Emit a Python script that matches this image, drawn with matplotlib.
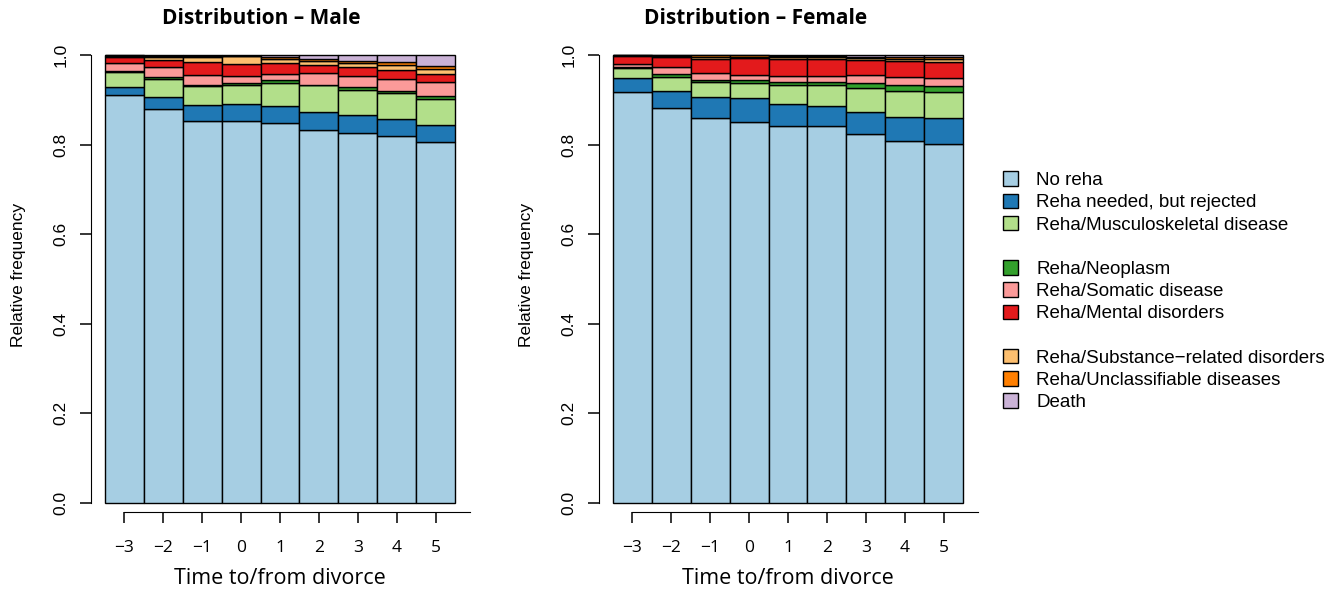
import matplotlib
matplotlib.use("Agg")
import matplotlib.pyplot as plt
from matplotlib.patches import Patch
import numpy as np

plt.rcParams['font.family'] = ['Liberation Sans', 'DejaVu Sans']

times = [-3, -2, -1, 0, 1, 2, 3, 4, 5]
categories = ["No reha", "Reha needed, but rejected", "Reha/Musculoskeletal disease",
              "Reha/Neoplasm", "Reha/Somatic disease", "Reha/Mental disorders",
              "Reha/Substance\u2212related disorders", "Reha/Unclassifiable diseases", "Death"]
colors = ["#A6CEE3", "#1F78B4", "#B2DF8A", "#33A02C", "#FB9A99",
          "#E31A1C", "#FDBF6F", "#FF7F00", "#CAB2D6"]

# shares per category (rows) and time point (columns)
male = np.array([
    [0.911, 0.879, 0.853, 0.852, 0.848, 0.833, 0.825, 0.818, 0.806],  # no reha
    [0.018, 0.026, 0.035, 0.038, 0.038, 0.040, 0.040, 0.038, 0.037],  # rejected
    [0.034, 0.042, 0.043, 0.043, 0.052, 0.059, 0.057, 0.059, 0.058],  # musculoskeletal
    [0.002, 0.003, 0.003, 0.004, 0.005, 0.002, 0.006, 0.005, 0.007],  # neoplasm
    [0.018, 0.022, 0.021, 0.017, 0.015, 0.025, 0.024, 0.026, 0.031],  # somatic
    [0.012, 0.016, 0.029, 0.025, 0.023, 0.019, 0.020, 0.021, 0.019],  # mental
    [0.003, 0.007, 0.011, 0.018, 0.011, 0.009, 0.009, 0.011, 0.011],  # substance
    [0.001, 0.002, 0.003, 0.001, 0.003, 0.005, 0.005, 0.006, 0.006],  # unclassifiable
    [0.001, 0.003, 0.002, 0.002, 0.005, 0.008, 0.014, 0.016, 0.025],  # death
])
female = np.array([
    [0.918, 0.881, 0.859, 0.851, 0.842, 0.841, 0.823, 0.807, 0.801],
    [0.030, 0.039, 0.047, 0.052, 0.048, 0.044, 0.049, 0.055, 0.058],
    [0.022, 0.031, 0.034, 0.035, 0.043, 0.048, 0.055, 0.058, 0.058],
    [0.002, 0.007, 0.005, 0.005, 0.007, 0.007, 0.011, 0.013, 0.013],
    [0.008, 0.014, 0.014, 0.012, 0.013, 0.013, 0.017, 0.018, 0.018],
    [0.018, 0.023, 0.033, 0.039, 0.038, 0.038, 0.034, 0.036, 0.037],
    [0.001, 0.003, 0.004, 0.001, 0.004, 0.004, 0.004, 0.005, 0.006],
    [0.001, 0.002, 0.003, 0.004, 0.003, 0.003, 0.003, 0.003, 0.004],
    [0.000, 0.000, 0.001, 0.001, 0.002, 0.002, 0.004, 0.005, 0.005],
])

W, H = 1344, 592
fig = plt.figure(figsize=(W / 100, H / 100), dpi=100)
seg = ["Open Sans", "DejaVu Sans"]


def stacked(left_px, data, title, title_x):
    ax = fig.add_axes([left_px / W, 80 / H, 378 / W, 475 / H])
    x = np.arange(len(times)) + 0.5
    bottom = np.zeros(len(times))
    for vals, col in zip(data, colors):
        ax.bar(x, vals, width=1.0, bottom=bottom, color=col,
               edgecolor="black", linewidth=1.0)
        bottom += vals
    ax.set_xlim(-0.36, 9.36)
    ax.set_ylim(-0.02, 1.04)
    for s in ["top", "right"]:
        ax.spines[s].set_visible(False)
    ax.spines["left"].set_bounds(0, 1)
    ax.spines["bottom"].set_bounds(0.5, 9.38)
    ax.set_xticks(x)
    ax.set_xticklabels([str(t).replace("-", "\u2212") for t in times],
                       fontsize=12.5, family=seg)
    ax.set_yticks([0, 0.2, 0.4, 0.6, 0.8, 1.0])
    ax.set_yticklabels(["0.0", "0.2", "0.4", "0.6", "0.8", "1.0"],
                       rotation=90, va="center", fontsize=12.5)
    ax.tick_params(length=8, width=1.1, pad=8)
    ax.tick_params(axis="x", pad=12)
    ax.set_ylabel("Relative frequency", fontsize=12.5, labelpad=20)
    ax.set_xlabel("Time to/from divorce", fontsize=15.5, labelpad=9, family=seg)
    fig.text(title_x / W, 1 - 19 / H, title, fontsize=15, fontweight="bold",
             ha="center", va="center", family=seg)
    return ax


stacked(91, male, "Distribution \u2013 Male", 261)
stacked(599, female, "Distribution \u2013 Female", 756)

handles, labels = [], []
for i, (cat, col) in enumerate(zip(categories, colors)):
    handles.append(Patch(facecolor=col, edgecolor="black", linewidth=1.0))
    labels.append(cat)
    if i in (2, 5):
        handles.append(Patch(visible=False))
        labels.append("")
fig.legend(handles, labels, loc="upper left", bbox_to_anchor=(995 / W, 1 - 164 / H),
           frameon=False, fontsize=13.5, handlelength=0.8, handleheight=0.8,
           handletextpad=1.0, labelspacing=0.24, borderaxespad=0)

plt.savefig("out.png", dpi=100)
